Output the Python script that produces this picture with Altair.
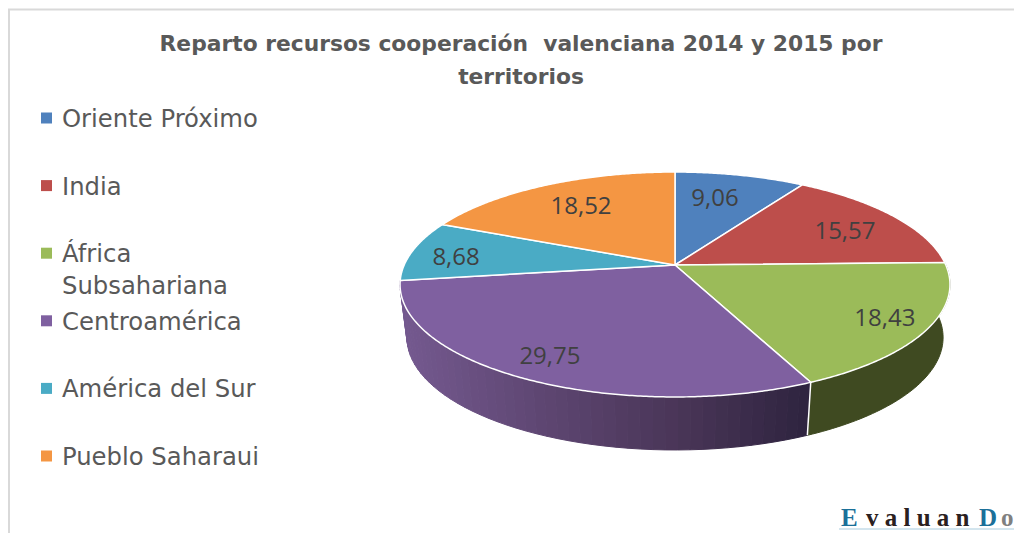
import math
import altair as alt

TITLE = ["Reparto recursos cooperación\u00a0 valenciana 2014 y 2015 por", "territorios"]
NAMES = ["Oriente Próximo", "India", "África\nSubsahariana", "Centroamérica", "América del Sur", "Pueblo Saharaui"]
VALUES = [9.06, 15.57, 18.43, 29.75, 8.68, 18.52]
LABELS = ["9,06", "15,57", "18,43", "29,75", "8,68", "18,52"]
COLORS = ["#4f81bd", "#bd4e4b", "#9bbb59", "#7f60a0", "#4aabc5", "#f49643"]
# polar placement of the value labels on the pie disc (degrees clockwise from top, fraction of radius)
LABEL_ANGLE = [13.7, 64.3, 122.6, 208.7, 274.5, 326.9]
LABEL_RADIUS = [0.696, 0.735, 0.847, 0.839, 0.82, 0.70]
GREEN_WALL = "#3f4a21"
PURPLE_WALL = [(402, "#74598f"), (540, "#5e4672"), (675, "#4a3658"), (806, "#2f2440")]

# page geometry
OX, OY = 8, 98
CX, CY = 675, 265
A, B, K = 270.8, 109.1, 0.1733
DEPTH, SHRINK = 53, 0.975


def rim(deg, r=1.0, depth=0, shrink=1.0):
    t = math.radians(deg)
    u, v = r * math.sin(t), r * math.cos(t)
    w = 1 + K * v
    return [CX + A * shrink * u / w - OX, CY + depth - B * v / w - OY]


def mix(x):
    for (x0, c0), (x1, c1) in zip(PURPLE_WALL, PURPLE_WALL[1:]):
        if x <= x1:
            f = max(0, (x - x0) / (x1 - x0))
            rgb = [int(c0[i:i + 2], 16) * (1 - f) + int(c1[i:i + 2], 16) * f for i in (1, 3, 5)]
            return "#%02x%02x%02x" % tuple(round(c) for c in rgb)
    return PURPLE_WALL[-1][1]


def feature(coords, fill):
    return {"type": "Feature", "properties": {"fill": fill},
            "geometry": {"type": "Polygon", "coordinates": [coords + [coords[0]]]}}


total = sum(VALUES)
edges = [0.0]
for v in VALUES:
    edges.append(edges[-1] + v / total * 360)

slices = []
for i, c in enumerate(COLORS):
    a0, a1 = edges[i], edges[i + 1]
    n = max(2, int(a1 - a0) * 2)
    pts = [rim(a0 + (a1 - a0) * j / n) for j in range(n + 1)]
    slices.append(feature([[CX - OX, CY - OY]] + pts, c))

walls = []
a0, a1 = edges[2], edges[3]
n = 60
walls.append(feature([rim(a0 + (a1 - a0) * j / n) for j in range(n + 1)] +
                     [rim(a1 - (a1 - a0) * j / n, depth=DEPTH, shrink=SHRINK) for j in range(n + 1)], GREEN_WALL))
a0, a1 = edges[3], edges[4]
n = 48
for j in range(n):
    s0, s1 = a0 + (a1 - a0) * j / n, a0 + (a1 - a0) * (j + 1) / n
    p = [rim(s0), rim(s1), rim(s1, depth=DEPTH, shrink=SHRINK), rim(s0, depth=DEPTH, shrink=SHRINK)]
    walls.append(feature(p, mix((p[0][0] + p[1][0]) / 2 + OX)))

divider = [{"type": "Feature", "properties": {},
            "geometry": {"type": "LineString",
                         "coordinates": [rim(edges[3]), rim(edges[3], depth=DEPTH, shrink=SHRINK)]}}]

proj = dict(type="identity", scale=1, translate=[0, 0])

wall_layer = alt.Chart(alt.Data(values=walls)).mark_geoshape(strokeWidth=1).encode(
    fill=alt.Fill("properties.fill:N", scale=None),
    stroke=alt.Stroke("properties.fill:N", scale=None)).project(**proj)
div_layer = alt.Chart(alt.Data(values=divider)).mark_geoshape(
    filled=False, stroke="white", strokeWidth=1.5).project(**proj)
top_layer = alt.Chart(alt.Data(values=slices)).mark_geoshape(stroke="white", strokeWidth=1.5).encode(
    fill=alt.Fill("properties.fill:N", scale=None)).project(**proj)

label_rows = []
for lab, ang, r in zip(LABELS, LABEL_ANGLE, LABEL_RADIUS):
    x, y = rim(ang, r)
    label_rows.append({"label": lab, "px": x, "py": y})
value_labels = alt.Chart(alt.Data(values=label_rows)).mark_text(
    font="Open Sans", fontSize=24, color="#404040").encode(
    x=alt.X("px:Q", scale=None), y=alt.Y("py:Q", scale=None), text="label:N")

legend_rows = [{"name": n, "color": c} for n, c in zip(NAMES, COLORS)]
leg_y = alt.Y("name:N", scale=alt.Scale(domain=NAMES, range=[20, 358], padding=0), axis=None)
leg_sym = alt.Chart(alt.Data(values=legend_rows)).mark_square(size=121, opacity=1).encode(
    x=alt.value(38.5), y=leg_y, color=alt.Color("color:N", scale=None))
leg_txt = alt.Chart(alt.Data(values=legend_rows)).mark_text(
    font="DejaVu Sans", fontSize=24.3, color="#595959", align="left", baseline="alphabetic",
    dy=9, lineBreak="\n", lineHeight=32).encode(
    x=alt.value(54), y=leg_y, text="name:N")

border = alt.Chart(alt.Data(values=[{"a": 0}]))
border_top = border.mark_rule(color="#d9d9d9", strokeWidth=2).encode(
    x=alt.value(0), x2=alt.value(1006), y=alt.value(-88.5))
border_left = border.mark_rule(color="#d9d9d9", strokeWidth=2).encode(
    x=alt.value(1), y=alt.value(-88.5), y2=alt.value(435))

wm_rows = [{"t": "E", "c": "#1b7099", "p": 833},
           {"t": "v a l u a n", "c": "#2a2020", "p": 858},
           {"t": "D", "c": "#1b7099", "p": 971},
           {"t": "o", "c": "#808080", "p": 993}]
wm = alt.Chart(alt.Data(values=wm_rows)).mark_text(
    font="Liberation Serif", fontWeight="bold", fontSize=25, align="left", baseline="alphabetic").encode(
    x=alt.X("p:Q", scale=None), y=alt.value(428), text="t:N", color=alt.Color("c:N", scale=None))
wm_rule = border.mark_rule(color="#c4dde8", strokeWidth=1.5).encode(
    x=alt.value(831), x2=alt.value(1006), y=alt.value(431))

chart = alt.layer(
    border_top, border_left, wall_layer, div_layer, top_layer, value_labels,
    leg_sym, leg_txt, wm, wm_rule).properties(
    width=1006, height=435,
    autosize=alt.AutoSizeParams(type="none"),
    padding={"left": 0, "top": 90, "right": 0, "bottom": 0},
    title=alt.TitleParams(text=TITLE, font="DejaVu Sans", fontWeight="bold", fontSize=21.8,
                          color="#595959", lineHeight=33, anchor="middle", dx=10, offset=-80),
).configure_view(stroke=None)

chart.save("out.html", embed_options={"renderer": "svg", "actions": False})
